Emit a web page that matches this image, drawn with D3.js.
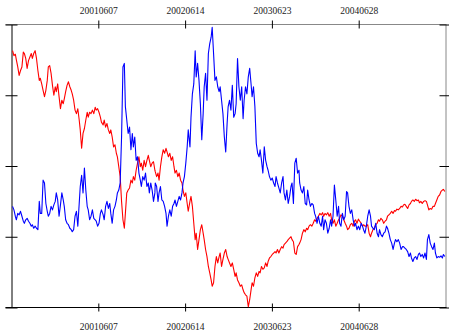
<!DOCTYPE html>
<html><head><meta charset="utf-8">
<script src="https://cdn.jsdelivr.net/npm/d3@7"></script>
<style>body{margin:0;background:#fff}svg{display:block}</style>
</head><body><svg id="c" width="449" height="330"></svg>
<script>
// trading-day index of each sample
const dayIndex = [3,7,11,14,18,22,26,30,34,37,41,45,49,53,57,60,64,68,72,76,80,83,87,91,95,99,103,106,110,114,118,122,126,129,133,137,141,145,149,152,156,160,164,168,172,175,179,183,187,191,195,198,202,206,210,214,218,221,225,229,233,237,241,244,248,252,256,259,264,267,271,275,279,283,286,290,294,298,302,305,309,313,317,321,325,328,332,336,340,344,348,351,355,359,363,367,371,374,378,382,386,390,394,397,401,405,409,413,
414,418,422,425,429,433,437,441,445,448,452,456,460,464,468,471,475,479,483,487,491,494,498,502,506,509,514,517,521,525,529,532,536,540,544,548,552,555,559,563,567,571,575,578,582,586,590,594,598,601,605,609,613,617,621,624,628,632,636,640,644,647,651,655,659,663,667,670,674,678,682,686,690,693,697,701,705,709,713,716,720,724,728,732,736,739,743,747,751,755,759,762,766,770,774,778,782,785,789,793,797,801,805,808,812,816,820,824,828,
830,834,838,842,846,850,853,857,861,865,869,873,876,880,884,888,892,896,899,903,907,911,915,919,922,926,930,934,938,942,945,949,953,957,961,965,968,972,976,980,984,988,991,995,999,1003,1007,1011,1014,1018,1022,1026,1030,1034,1037,1041,1045,1049,1053,1057,1060,1064,1068,1072,1076,1080,1083,1087,1091,1095,1099,1103,1106,1110,1114,1118,1122,1126,1129,1133,1137,1141,1145,1149,1152,1156,1160,1164,1168,1172,1175,1179,1183,1187,1191,1195,1198,1202,1206,1210,1214,1218,1221,1225,1229,1233,1237,1241,1244,1248];

const redSeries = [3.63,3.56,3.58,3.50,3.40,3.28,3.35,3.40,3.61,3.59,
3.52,3.38,3.49,3.54,3.59,3.52,3.59,3.63,3.52,3.35,
3.21,3.24,3.16,3.07,2.98,3.07,3.21,3.40,3.42,3.31,
3.14,3.00,3.12,3.05,3.16,2.98,2.81,2.93,2.88,2.95,
3.05,3.14,3.19,3.12,3.07,3.02,2.93,2.79,2.74,2.81,
2.65,2.51,2.25,2.46,2.53,2.65,2.76,2.69,2.76,2.74,
2.79,2.74,2.83,2.79,2.81,2.76,2.69,2.62,2.58,2.65,
2.55,2.60,2.51,2.46,2.51,2.41,2.27,2.30,2.18,2.13,
1.99,1.85,1.50,1.24,1.12,1.33,1.62,1.66,1.69,1.80,
1.76,1.85,1.80,1.94,2.04,2.13,1.99,2.04,1.94,2.08,
1.99,2.08,2.15,2.08,1.99,2.04,2.06,1.94,
1.92,1.85,1.90,1.80,1.99,2.13,2.23,2.18,2.25,2.20,
2.13,2.18,2.08,2.13,1.99,1.90,1.94,1.85,1.90,1.80,
1.76,1.66,1.57,1.62,1.47,1.36,1.50,1.57,1.43,1.19,
0.96,1.05,0.82,0.96,1.10,1.17,1.05,0.96,0.82,0.72,
0.58,0.49,0.39,0.30,0.35,0.58,0.72,0.63,0.72,0.77,
0.58,0.68,0.77,0.82,0.72,0.68,0.63,0.58,0.63,0.54,
0.44,0.49,0.39,0.35,0.30,0.32,0.25,0.21,0.18,0.16,
0.01,0.11,0.25,0.35,0.30,0.42,0.49,0.44,0.51,0.49,
0.58,0.54,0.56,0.63,0.58,0.65,0.70,0.72,0.75,0.77,
0.79,0.77,0.82,0.77,0.82,0.86,0.84,0.89,0.91,0.93,
0.96,0.98,1.00,0.96,0.93,0.77,0.75,0.86,0.89,
0.91,0.96,1.05,1.10,1.07,1.12,1.10,1.15,1.17,1.15,
1.19,1.24,1.22,1.26,1.29,1.33,1.31,1.34,1.29,1.33,
1.31,1.34,1.29,1.33,1.24,1.19,1.24,1.15,1.19,1.24,
1.26,1.31,1.29,1.24,1.19,1.15,1.10,1.12,1.17,1.19,
1.15,1.22,1.24,1.19,1.25,1.22,1.19,1.15,1.17,1.15,
1.15,1.17,1.05,1.00,1.05,1.10,1.12,1.17,1.19,1.24,
1.22,1.26,1.24,1.19,1.22,1.24,1.29,1.31,1.33,1.36,
1.33,1.37,1.36,1.39,1.38,1.40,1.43,1.42,1.45,1.46,
1.43,1.40,1.45,1.47,1.50,1.52,1.50,1.53,1.51,1.52,
1.48,1.50,1.47,1.50,1.51,1.50,1.45,1.38,1.40,1.39,
1.43,1.43,1.47,1.52,1.57,1.59,1.64,1.66,1.67,1.64];

const blueSeries = [1.43,1.38,1.29,1.24,1.33,1.31,1.36,1.29,1.22,1.19,
1.24,1.26,1.22,1.19,1.15,1.17,1.12,1.15,1.12,1.10,
1.50,1.33,1.33,1.80,1.76,1.47,1.36,1.29,1.33,1.43,
1.38,1.45,1.50,1.62,1.52,1.29,1.45,1.62,1.52,1.43,
1.24,1.19,1.17,1.12,1.10,1.07,1.10,1.29,1.36,1.15,
1.47,1.71,1.87,1.62,1.97,1.66,1.43,1.38,1.24,1.29,
1.38,1.26,1.24,1.22,1.15,1.19,1.33,1.38,1.31,1.24,
1.43,1.50,1.40,1.47,1.33,1.19,1.38,1.43,1.52,1.62,
1.66,1.76,2.41,3.40,3.45,2.84,2.65,2.46,2.55,2.23,
2.46,2.27,2.41,2.08,2.13,1.90,1.80,1.71,1.85,1.80,
1.90,1.71,1.76,1.62,1.76,1.66,1.50,1.62,
1.76,1.71,1.50,1.62,1.71,1.52,1.50,1.43,1.33,1.15,
1.29,1.38,1.29,1.43,1.47,1.52,1.43,1.50,1.57,1.52,
1.62,1.76,1.85,2.04,2.27,2.51,2.27,2.69,3.02,3.16,
3.63,3.26,3.45,3.21,2.88,2.37,2.74,3.12,3.31,2.93,
3.59,3.73,3.82,3.96,3.59,3.21,3.26,3.12,3.05,3.12,
2.93,2.74,2.41,2.20,2.60,2.84,2.93,2.79,3.14,2.69,
2.74,2.88,3.52,3.12,2.93,3.12,2.67,2.93,3.12,3.02,
3.26,3.38,3.16,2.98,3.12,2.84,2.32,2.18,2.13,2.23,
2.08,1.90,2.27,2.08,1.99,1.94,1.85,1.80,1.83,1.76,
1.71,1.85,1.76,1.69,1.62,1.76,1.85,1.62,1.52,1.66,
1.47,1.57,1.71,1.76,1.47,2.04,2.11,1.90,1.94,
1.76,1.66,1.62,1.71,1.47,1.45,1.66,1.52,1.43,1.47,
1.45,1.33,1.29,1.19,1.29,1.19,1.15,1.29,1.10,1.24,
1.19,1.05,1.12,1.24,1.15,1.29,1.73,1.52,1.29,1.43,
1.19,1.15,1.33,1.24,1.29,1.64,1.62,1.43,1.33,1.38,
1.24,1.15,1.19,1.10,1.15,1.10,1.19,1.15,1.10,1.05,
1.15,1.29,1.38,1.29,1.15,1.12,1.10,1.19,1.05,1.00,
1.10,1.03,1.00,1.05,1.07,1.15,1.12,1.05,0.96,0.91,
0.82,0.91,0.96,0.93,0.96,0.91,0.82,0.86,0.86,0.84,
0.82,0.79,0.72,0.77,0.70,0.65,0.70,0.72,0.68,0.75,
0.77,0.72,0.75,0.70,0.77,0.68,0.96,1.03,0.91,0.86,
0.82,0.91,0.77,0.70,0.72,0.71,0.73,0.70,0.75,0.72];

const xTickIndex = [250, 500, 750, 1000];
const xTickLabels = ["20010607", "20020614", "20030623", "20040628"];
const yTicks = [0, 1, 2, 3, 4];
const xDomain = [0, 1250];
const yDomain = [0, 4];

const svg = d3.select("#c");
const L = 11.5, R = 445.5, T = 24.5, B = 307.5;
const x = d3.scaleLinear().domain(xDomain).range([L, R]);
const y = d3.scaleLinear().domain(yDomain).range([B, T]);
const font = "'Liberation Serif','Times New Roman',serif";

function styleText(sel, yPos) {
  sel.selectAll(".tick text").attr("y", yPos).attr("dy", null)
    .attr("font-family", font).attr("font-size", "9.5px").attr("fill", "#222");
}

// top axis (grey frame line)
const gt = svg.append("g").attr("transform", `translate(0,${T})`)
  .call(d3.axisTop(x).tickValues(xTickIndex).tickFormat((d, i) => xTickLabels[i]).tickSizeOuter(0));
gt.select(".domain").attr("stroke", "#888").attr("d", `M${L - 6},0H${R + 1}`);
gt.selectAll(".tick line").attr("y1", -4).attr("y2", 4).attr("stroke", "#000");
styleText(gt, -10.5);

// right axis (grey frame line)
const gr = svg.append("g").attr("transform", `translate(${R},0)`)
  .call(d3.axisRight(y).tickValues(yTicks).tickFormat("").tickSizeOuter(0));
gr.select(".domain").attr("stroke", "#888");
gr.selectAll(".tick line").attr("x1", -6).attr("x2", 4).attr("stroke", "#000");

// bottom axis
const gb = svg.append("g").attr("transform", `translate(0,${B})`)
  .call(d3.axisBottom(x).tickValues(xTickIndex).tickFormat((d, i) => xTickLabels[i]).tickSizeOuter(0));
gb.select(".domain").attr("stroke", "#000").attr("d", `M${L - 6},0H${R + 1}`);
gb.selectAll(".tick line").attr("y1", -4).attr("y2", 4).attr("stroke", "#000");
styleText(gb, 22);

// left axis
const gl = svg.append("g").attr("transform", `translate(${L},0)`)
  .call(d3.axisLeft(y).tickValues(yTicks).tickFormat("").tickSizeOuter(0));
gl.select(".domain").attr("stroke", "#000");
gl.selectAll(".tick line").attr("x1", -6).attr("x2", 6).attr("stroke", "#000");

const line = (vals) => d3.line().x((d, i) => x(dayIndex[i])).y(d => y(d))(vals);

svg.append("path").attr("d", line(redSeries)).attr("fill", "none")
  .attr("stroke", "#ff0000").attr("stroke-width", 1.1).attr("stroke-linejoin", "round");
svg.append("path").attr("d", line(blueSeries)).attr("fill", "none")
  .attr("stroke", "#0000ff").attr("stroke-width", 1.1).attr("stroke-linejoin", "round");
</script></body></html>
